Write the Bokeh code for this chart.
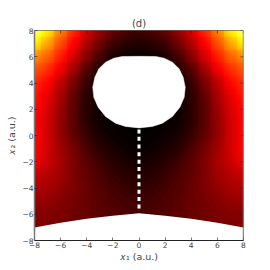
import numpy as np
from bokeh.plotting import figure
from bokeh.models import Range1d, Span, LinearColorMapper
from bokeh.embed import file_html
from bokeh.resources import INLINE

title = "(d)"
x_label = "𝑥₁ (a.u.)"
y_label = "𝑥₂ (a.u.)"
tick_values = [-8, -6, -4, -2, 0, 2, 4, 6, 8]
grid_x = [-8, -7, -6, -5, -4, -3, -2, -1, 0, 1, 2, 3, 4, 5, 6, 7, 8]
grid_y = [8, 7, 6, 5, 4, 3, 2, 1, 0, -1, -2, -3, -4, -5, -6, -7, -8]

# heat, rows y=8..-8, columns x=-8..0 (the map is mirror-symmetric)
heat_rows = [
    [.86, .72, .56, .43, .31, .22, .15, .11, .09],
    [.72, .61, .48, .36, .25, .16, .09, .06, .05],
    [.58, .51, .41, .30, .19, .10, .04, .02, .01],
    [.49, .43, .34, .23, .12, .05, .01, .00, .00],
    [.43, .37, .27, .17, .08, .02, .00, .00, .00],
    [.40, .33, .24, .14, .06, .02, .00, .00, .00],
    [.38, .31, .22, .13, .06, .02, .00, .00, .00],
    [.37, .30, .21, .13, .06, .02, .01, .00, .00],
    [.37, .30, .21, .14, .08, .04, .02, .01, .00],
    [.37, .30, .23, .17, .11, .06, .04, .02, .01],
    [.35, .29, .24, .18, .13, .09, .06, .04, .03],
    [.29, .26, .23, .18, .14, .11, .08, .06, .05],
    [.25, .24, .21, .18, .15, .12, .10, .08, .07],
    [.22, .21, .19, .17, .15, .13, .11, .10, .09],
    [.19, .19, .18, .16, .15, .13, .12, .11, .10],
    [.18, .18, .17, .16, .15, .13, .12, .11, .10],
    [.18, .18, .17, .16, .15, .13, .12, .11, .10],
]

hole_x = [0, -1.29, -1.93, -2.56, -3.07, -3.38, -3.54, -3.46, -3.13, -2.56, -1.80, -1.03, 0,
          1.03, 1.80, 2.56, 3.13, 3.46, 3.54, 3.38, 3.07, 2.56, 1.93, 1.29]
hole_y = [6.03, 6.02, 5.89, 5.59, 5.08, 4.44, 3.68, 2.92, 2.16, 1.45, .94, .69, .58,
          .69, .94, 1.45, 2.16, 2.92, 3.68, 4.44, 5.08, 5.59, 5.89, 6.02]
edge_x = [-8, -6, -4, -2, 0, 2, 4, 6, 8]
edge_y = [-7.0, -6.65, -6.35, -6.12, -5.92, -6.12, -6.35, -6.65, -7.0]
dash_y = [.30, -.25, -.84, -1.42, -2.0, -2.56, -3.12, -3.71, -4.29, -4.84, -5.41]
dash_x = [0] * len(dash_y)

def hot(t):
    r = min(1, t / .365)
    g = min(1, max(0, (t - .365) / .381))
    b = min(1, max(0, (t - .746) / .254))
    return "#%02x%02x%02x" % (int(r * 255), int(g * 255), int(b * 255))

rows = np.array(heat_rows)
grid = np.hstack([rows, rows[:, -2::-1]])

levels = np.linspace(-0.005, 0.865, 88)
mids = (levels[:-1] + levels[1:]) / 2
fill_palette = [hot(max(t, 0)) for t in mids]

p = figure(frame_width=209, frame_height=210, x_range=Range1d(-8, 8), y_range=Range1d(-8, 8),
           output_backend="svg", toolbar_location=None, title=title,
           min_border_left=34, min_border_right=8, min_border_top=30, min_border_bottom=14,
           x_axis_label=x_label, y_axis_label=y_label,
           background_fill_color="white", border_fill_color="white")
p.grid.visible = False
p.outline_line_color = None
# same grid underneath, so the hairlines between contour bands do not show white
p.image(image=[grid[::-1].astype(float)], x=-8.5, y=-8.5, dw=17, dh=17,
        color_mapper=LinearColorMapper(palette=[hot(i / 255) for i in range(256)], low=0, high=1))
p.contour(grid_x, grid_y, grid, levels=levels, fill_color=fill_palette, line_color=None)
p.patch(hole_x, hole_y, fill_color="white", line_color="white", line_width=0.5)
p.varea(x=edge_x, y1=[-8] * len(edge_x), y2=edge_y, fill_color="white")
p.rect(dash_x, dash_y, width=3, height=4, width_units="screen", height_units="screen",
       fill_color="white", line_color=None)

# ticks on the top and right sides, mirrored from the axes
p.segment(tick_values, [8] * 9, tick_values, [7.77] * 9, line_color="#222222", line_width=0.6)
p.segment([8] * 9, tick_values, [7.77] * 9, tick_values, line_color="#222222", line_width=0.6)
p.add_layout(Span(location=8, dimension="height", line_color="#777777", line_width=1.5))
p.add_layout(Span(location=8, dimension="width", line_color="#222222", line_width=1))

p.title.align = "center"
p.title.text_font = "DejaVu Sans"
p.title.text_font_size = "10px"
p.title.text_font_style = "normal"
p.title.standoff = 3

for ax in p.xaxis + p.yaxis:
    ax.ticker = tick_values
    ax.major_tick_in = 3
    ax.major_tick_out = 0
    ax.minor_tick_in = 0
    ax.minor_tick_out = 0
    ax.major_tick_line_color = "#222222"
    ax.major_tick_line_width = 0.6
    ax.major_label_text_font = "DejaVu Sans"
    ax.major_label_text_font_size = "7.5px"
    ax.major_label_standoff = 1
    ax.axis_label_text_font = "DejaVu Sans"
    ax.axis_label_text_font_size = "9.5px"
    ax.axis_label_text_font_style = "normal"
    ax.axis_label_standoff = 0
p.yaxis.axis_label_standoff = 2
p.xaxis.axis_line_color = "#222222"
p.yaxis.axis_line_color = "#777777"
p.yaxis.axis_line_width = 1.5

open("out.html", "w").write(file_html(p, INLINE))
